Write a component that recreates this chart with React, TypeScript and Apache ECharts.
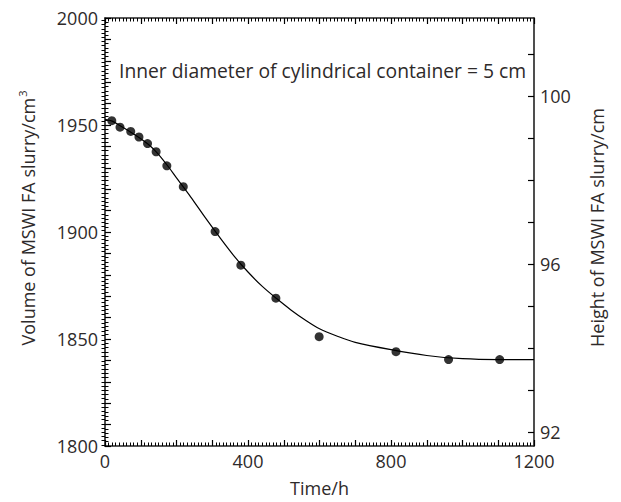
import React, { useEffect, useRef } from "react";
import * as echarts from "echarts";

// Measured slurry volume over time
const timeH = [19, 42, 72, 95, 119, 143, 173, 219, 308, 380, 478, 599, 814, 961, 1104];
const volumeCm3 = [1952.0, 1949.0, 1947.0, 1944.4, 1941.3, 1937.5, 1930.9, 1921.2, 1900.2, 1884.5, 1869.1, 1851.1, 1844.1, 1840.4, 1840.4];

// Fitted settling curve
const fitTimeH = [0, 20, 40, 60, 80, 100, 120, 140, 160, 180, 200, 240, 280, 320, 360, 400, 440, 480, 520, 560, 600, 650, 700, 800, 900, 1000, 1100, 1200];
const fitVolumeCm3 = [1952.6, 1951.8, 1949.9, 1947.9, 1945.8, 1943.6, 1941.1, 1938.0, 1934.2, 1929.9, 1925.3, 1916.3, 1906.8, 1897.7, 1889.0, 1881.3, 1874.6, 1868.9, 1863.6, 1858.9, 1854.8, 1851.3, 1848.4, 1845.0, 1842.3, 1840.8, 1840.4, 1840.4];

// Axis labels
const timeLabels = [0, 400, 800, 1200];
const volumeLabels = [1800, 1850, 1900, 1950, 2000];
const heightLabels = [92, 96, 100];
const heightMajorTicks = [92, 93, 94, 95, 96, 97, 98, 99, 100, 101];

const DIAMETER_CM = 5;
const AREA_CM2 = Math.PI * (DIAMETER_CM / 2) ** 2;
const V_MIN = 1800;
const V_MAX = 2000;

const FONT = "'Open Sans', 'Noto Sans', sans-serif";
const TEXT = "#2e2a2a";
const LINE = "#000";

export default function App() {
  const ref = useRef<HTMLDivElement>(null);

  useEffect(() => {
    document.body.style.margin = "0";
    if (!ref.current) return;
    const chart = echarts.init(ref.current, undefined, { renderer: "svg" });

    const hMin = V_MIN / AREA_CM2;
    const hMax = V_MAX / AREA_CM2;
    const heightMinorTicks: number[] = [];
    for (let i = Math.ceil(hMin * 10); i <= Math.floor(hMax * 10); i++) heightMinorTicks.push(i / 10);

    const axisLine = { show: true, onZero: false, lineStyle: { color: "#222", width: 1.6 } };
    const labelStyle = { color: TEXT, fontSize: 18, fontFamily: FONT };
    const majorTick = { show: true, inside: true, length: 6, lineStyle: { color: LINE, width: 1.2 } };
    const minorTickStyle = { color: LINE, width: 1 };

    const xCommon = {
      type: "value" as const,
      min: 0,
      max: 1200,
      interval: 100,
      axisLine,
      axisTick: majorTick,
      minorTick: { show: true, splitNumber: 10, length: 3.5, lineStyle: minorTickStyle },
      splitLine: { show: false },
      minorSplitLine: { show: false },
    };

    chart.setOption({
      animation: false,
      backgroundColor: "#fff",
      grid: { left: 105, top: 18, right: 87, bottom: 55, containLabel: false },
      xAxis: [
        {
          ...xCommon,
          position: "bottom",
          axisLabel: {
            ...labelStyle,
            margin: 6,
            formatter: (v: number) => (timeLabels.includes(v) ? String(v) : ""),
          },
          name: "Time/h",
          nameLocation: "middle",
          nameGap: 33,
          nameTextStyle: { ...labelStyle, fontSize: 18 },
        },
        { ...xCommon, position: "top", axisLabel: { show: false } },
      ],
      yAxis: [
        {
          type: "value",
          min: V_MIN,
          max: V_MAX,
          interval: 10,
          position: "left",
          axisLine,
          axisTick: majorTick,
          minorTick: { show: true, splitNumber: 5, length: 3.5, lineStyle: minorTickStyle },
          splitLine: { show: false },
          minorSplitLine: { show: false },
          axisLabel: {
            ...labelStyle,
            margin: 7,
            formatter: (v: number) => (volumeLabels.includes(v) ? String(v) : ""),
          },
          name: "{t|Volume of MSWI FA slurry/cm}{s|3}",
          nameLocation: "middle",
          nameRotate: 90,
          nameGap: 67,
          nameTextStyle: {
            padding: [0, 0, 0, 28],
            rich: {
              t: { ...labelStyle, fontSize: 18 },
              s: { ...labelStyle, fontSize: 11, verticalAlign: "top", padding: [0, 0, 10, 1] },
            },
          },
        },
        {
          type: "value",
          min: hMin,
          max: hMax,
          position: "right",
          axisLine,
          axisTick: { ...majorTick, customValues: heightMajorTicks },
          axisLabel: { ...labelStyle, margin: 6, customValues: heightLabels },
          splitLine: { show: false },
          name: "Height of MSWI FA slurry/cm",
          nameLocation: "middle",
          nameRotate: 90,
          nameGap: 54,
          nameTextStyle: { ...labelStyle, fontSize: 18, padding: [0, 0, 0, 9] },
        },
        {
          type: "value",
          min: hMin,
          max: hMax,
          position: "right",
          axisLine: { show: false },
          axisTick: { show: true, inside: true, length: 3.5, customValues: heightMinorTicks, lineStyle: minorTickStyle },
          axisLabel: { show: false },
          splitLine: { show: false },
        },
      ],
      graphic: [
        {
          type: "text",
          left: 119,
          top: 61,
          style: {
            text: "Inner diameter of cylindrical container = 5 cm",
            fill: TEXT,
            font: `19.3px ${FONT}`,
          },
        },
      ],
      series: [
        {
          type: "line",
          xAxisIndex: 0,
          yAxisIndex: 0,
          data: fitTimeH.map((t, i) => [t, fitVolumeCm3[i]]),
          showSymbol: false,
          smooth: 0.3,
          lineStyle: { color: "#000", width: 1.2 },
          silent: true,
          z: 2,
        },
        {
          type: "scatter",
          xAxisIndex: 0,
          yAxisIndex: 0,
          data: timeH.map((t, i) => [t, volumeCm3[i]]),
          symbol: "circle",
          symbolSize: 9,
          itemStyle: { color: "#000" },
          z: 3,
        },
      ],
    });

    return () => chart.dispose();
  }, []);

  return <div ref={ref} style={{ width: 621, height: 502 }} />;
}
